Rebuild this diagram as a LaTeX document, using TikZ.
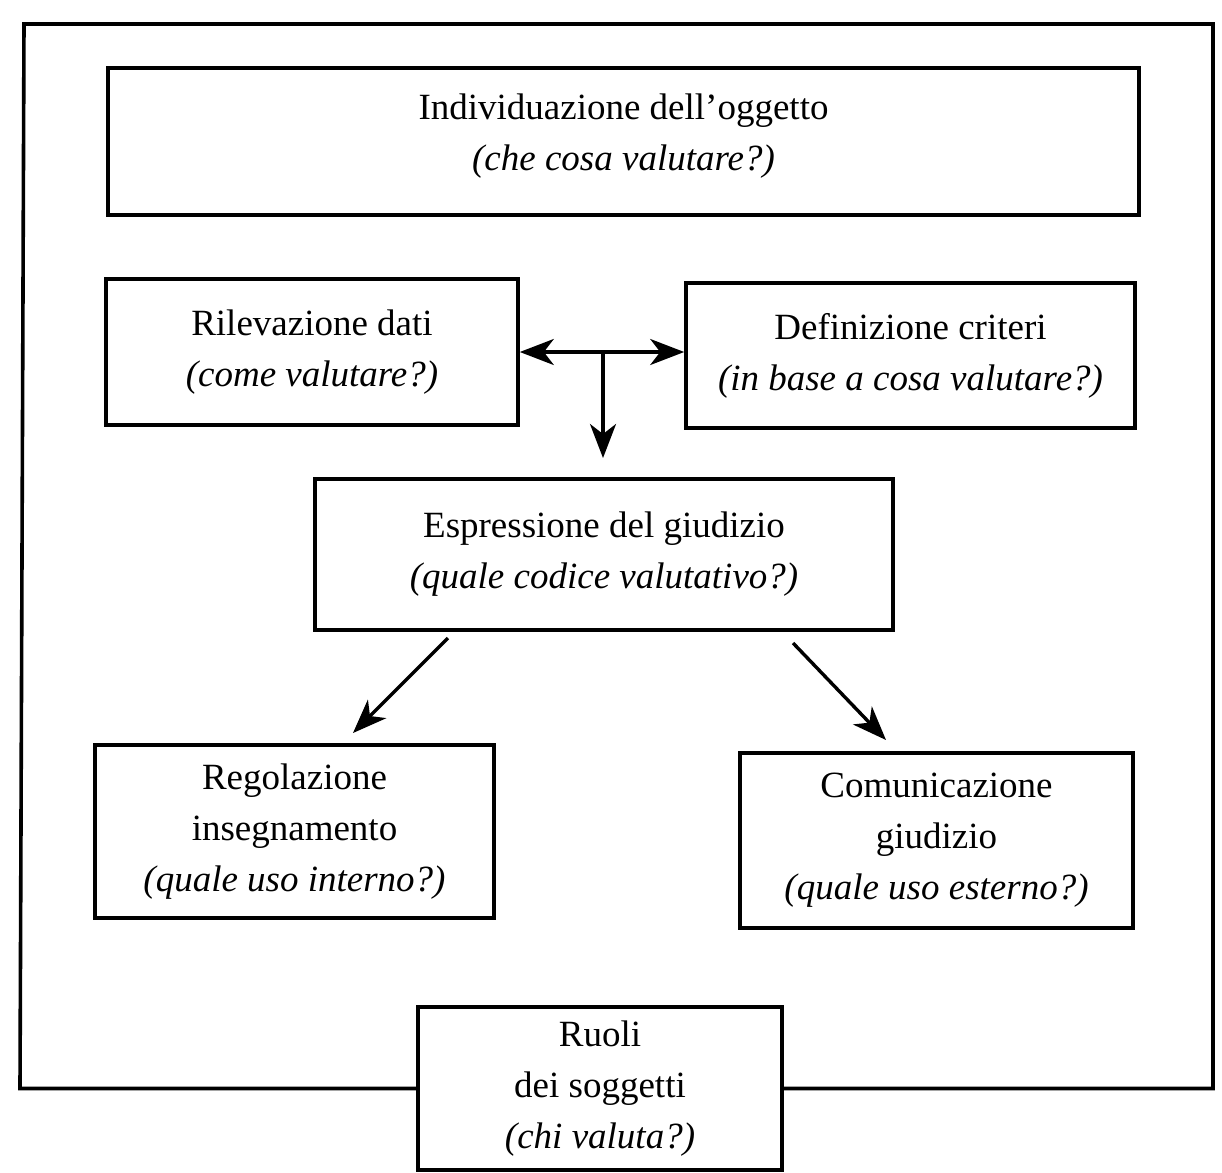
\documentclass[tikz,border=0pt]{standalone}
\usepackage{fontspec}
\setmainfont{Liberation Serif}
\usetikzlibrary{arrows.meta}
\tikzset{
  box/.style={draw, line width=3.6pt, rectangle, align=center, inner sep=0pt,
    font=\fontsize{37}{51}\selectfont},
  frame/.style={draw, line width=3.6pt},
  arr/.style={line width=3.4pt, -{Stealth[length=34pt,width=26pt,inset=10pt]}},
  darr/.style={line width=3.4pt, {Stealth[length=34pt,width=26pt,inset=10pt]}-{Stealth[length=34pt,width=26pt,inset=10pt]}}
}
\begin{document}
\begin{tikzpicture}[x=1pt,y=-1pt]
\useasboundingbox (0,0) rectangle (1222,1172);
\fill[white] (0,0) rectangle (1222,1172);
\node[box, minimum width=1031pt, minimum height=147pt] (top) at (623.5,141.5)
  {Individuazione dell'oggetto\\\textit{(che cosa valutare?)}\\[-32pt]\mbox{}};
\node[box, minimum width=412pt, minimum height=146pt] (ril) at (312,352)
  {Rilevazione dati\\\textit{(come valutare?)}};
\node[box, minimum width=449pt, minimum height=145pt] (def) at (910.5,355.5)
  {Definizione criteri\\\textit{(in base a cosa valutare?)}};
\node[box, minimum width=578pt, minimum height=151pt] (esp) at (604,554.5)
  {Espressione del giudizio\\\textit{(quale codice valutativo?)}};
\node[box, minimum width=399pt, minimum height=173pt] (reg) at (294.5,831.5)
  {Regolazione\\insegnamento\\\textit{(quale uso interno?)}};
\node[box, minimum width=393pt, minimum height=175pt] (com) at (936.5,840.5)
  {Comunicazione\\giudizio\\\textit{(quale uso esterno?)}};
\node[box, minimum width=364pt, minimum height=163pt] (ruoli) at (600,1088.5)
  {Ruoli\\dei soggetti\\\textit{(chi valuta?)}};
% outer frame
\draw[frame, line join=miter] (ruoli.west) -- (20,1088.5) -- (24,24) -- (1213,24) -- (1213,1088.5) -- (ruoli.east);
% arrows
\coordinate (hl) at (ril.east);
\coordinate (hr) at (def.west |- ril.east);
\coordinate (tj) at (603,352);
\coordinate (td) at (603,458);
\draw[darr] (hl) -- (hr);
\draw[arr] (tj) -- (td);
\coordinate (ls) at (448,638);
\coordinate (le) at (353,733);
\coordinate (rs) at (793,643);
\coordinate (re) at (886,740);
\draw[arr] (ls) -- (le);
\draw[arr] (rs) -- (re);
\end{tikzpicture}
\end{document}
